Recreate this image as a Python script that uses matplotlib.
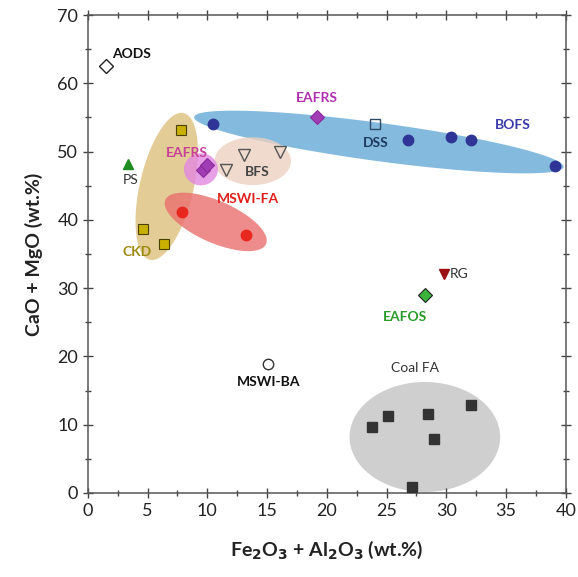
import numpy as np
import matplotlib
matplotlib.use('Agg')
import matplotlib.pyplot as plt
from matplotlib.patches import Polygon
from matplotlib.ticker import MultipleLocator

plt.rcParams['font.family'] = ['Lato', 'DejaVu Sans']

# point groups: x = Fe2O3 + Al2O3, y = CaO + MgO
aods_x, aods_y = [1.5], [62.5]
ps_x, ps_y = [3.4], [48.2]
ckd_x, ckd_y = [7.8, 4.6, 6.4], [53.1, 38.7, 36.5]
eafrs_x, eafrs_y = [9.6, 10.0, 19.2], [47.3, 48.1, 55.1]
bfs_x, bfs_y = [11.6, 13.1, 16.1], [47.3, 49.5, 49.9]
bofs_x, bofs_y = [10.5, 26.8, 30.4, 32.1, 39.1], [54.0, 51.7, 52.1, 51.7, 47.9]
dss_x, dss_y = [24.0], [54.0]
mswifa_x, mswifa_y = [7.9, 13.2], [41.1, 37.8]
rg_x, rg_y = [29.8], [32.1]
eafos_x, eafos_y = [28.2], [29.0]
mswiba_x, mswiba_y = [15.1], [18.9]
coal_x = [23.8, 25.1, 28.5, 32.1, 29.0, 27.1]
coal_y = [9.7, 11.3, 11.6, 12.9, 7.9, 0.9]

# shaded groups: centre x, centre y, half-length, half-width (x units), angle (deg), colour
ell_cx = [6.6, 24.35, 10.7, 13.8, 9.46, 28.2]
ell_cy = [44.9, 51.4, 39.7, 48.6, 47.4, 8.2]
ell_a = [6.3, 15.6, 4.6, 3.2, 1.42, 6.3]
ell_b = [2.25, 1.6, 1.75, 2.0, 1.34, 4.6]
ell_ang = [77, -7.7, -23.7, 0, 0, 0]
ell_col = ['#ddc07c', '#66a9d6', '#ea6f6f', '#ecd1c1', '#e288e0', '#cfcfcf']

fig = plt.figure(figsize=(5.78, 5.77), dpi=100)
ax = fig.add_axes([0.152, 0.1456, 0.827, 0.8284])
ax.set_xlim(0, 40)
ax.set_ylim(0, 70)

# ratio of y-unit to x-unit on screen, so ellipses keep their look
w_px = 0.827 * 578
h_px = 0.8284 * 577
r = (h_px / 70) / (w_px / 40)

t = np.linspace(0, 2 * np.pi, 200)
for cx, cy, a, b, ang, col in zip(ell_cx, ell_cy, ell_a, ell_b, ell_ang, ell_col):
    th = np.deg2rad(ang)
    X = a * np.cos(t) * np.cos(th) - b * np.sin(t) * np.sin(th)
    Y = a * np.cos(t) * np.sin(th) + b * np.sin(t) * np.cos(th)
    pts = np.column_stack([cx + X, cy + Y / r])
    alpha = 1.0 if col == '#cfcfcf' else 0.8
    ax.add_patch(Polygon(pts, closed=True, facecolor=col, edgecolor='none', alpha=alpha, zorder=1))

ax.plot(aods_x, aods_y, 'D', ms=7.5, mfc='white', mec='#222222', mew=1, zorder=3)
ax.plot(ps_x, ps_y, '^', ms=7.5, mfc='#1e8c1e', mec='#1e8c1e', zorder=3)
ax.plot(ckd_x, ckd_y, 's', ms=7.5, mfc='#c9b000', mec='#4a4000', mew=0.8, zorder=3)
ax.plot(eafrs_x, eafrs_y, 'D', ms=7.5, mfc='#a03cb4', mec='#8a2a9c', mew=0.8, zorder=3)
ax.plot(bfs_x, bfs_y, 'v', ms=8.5, mfc='none', mec='#555555', mew=1, zorder=3)
ax.plot(bofs_x, bofs_y, 'o', ms=7.5, mfc='#2f3596', mec='#2f3596', zorder=3)
ax.plot(dss_x, dss_y, 's', ms=7.5, mfc='none', mec='#2e4a66', mew=1, zorder=3)
ax.plot(mswifa_x, mswifa_y, 'o', ms=7.5, mfc='#e8281e', mec='#e8281e', zorder=3)
ax.plot(rg_x, rg_y, 'v', ms=7, mfc='#9a1212', mec='#9a1212', zorder=3)
ax.plot(eafos_x, eafos_y, 'D', ms=7.5, mfc='#3cb43c', mec='#222222', mew=0.8, zorder=3)
ax.plot(mswiba_x, mswiba_y, 'o', ms=7.5, mfc='white', mec='#333333', mew=1, zorder=3)
ax.plot(coal_x, coal_y, 's', ms=7.5, mfc='#333333', mec='#333333', zorder=3)

fs = 10
ax.text(2.0, 64.3, 'AODS', fontsize=fs, fontweight='bold', color='#111111', va='center')
ax.text(19.2, 57.8, 'EAFRS', fontsize=fs, fontweight='bold', color='#b030b0', ha='center', va='center')
ax.text(24.1, 51.2, 'DSS', fontsize=fs, fontweight='bold', color='#1f3a5f', ha='center', va='center')
ax.text(35.6, 53.9, 'BOFS', fontsize=fs, fontweight='bold', color='#3a3aaa', ha='center', va='center')
ax.text(8.3, 49.8, 'EAFRS', fontsize=fs, fontweight='bold', color='#c8409a', ha='center', va='center')
ax.text(3.6, 45.8, 'PS', fontsize=fs, color='#333333', ha='center', va='center')
ax.text(14.2, 47.0, 'BFS', fontsize=fs, fontweight='bold', color='#444444', ha='center', va='center')
ax.text(13.4, 43.0, 'MSWI-FA', fontsize=fs, fontweight='bold', color='#e0201c', ha='center', va='center')
ax.text(4.1, 35.3, 'CKD', fontsize=fs, fontweight='bold', color='#9a8a10', ha='center', va='center')
ax.text(30.3, 32.1, 'RG', fontsize=fs, color='#333333', va='center')
ax.text(26.5, 25.8, 'EAFOS', fontsize=fs, fontweight='bold', color='#2a9a2a', ha='center', va='center')
ax.text(15.1, 16.3, 'MSWI-BA', fontsize=fs, fontweight='bold', color='#111111', ha='center', va='center')
ax.text(27.4, 18.3, 'Coal FA', fontsize=fs, color='#333333', ha='center', va='center')

ax.xaxis.set_major_locator(MultipleLocator(5))
ax.xaxis.set_minor_locator(MultipleLocator(2.5))
ax.yaxis.set_major_locator(MultipleLocator(10))
ax.yaxis.set_minor_locator(MultipleLocator(5))
ax.tick_params(which='both', direction='inout', labelsize=13, colors='#444444',
               labelcolor='#222222', top=True, right=True)
ax.tick_params(which='major', length=7, width=1)
ax.tick_params(which='minor', length=5, width=1)
for sp in ax.spines.values():
    sp.set_color('#555555')
    sp.set_linewidth(1.1)

ax.set_xlabel(r'Fe$_\mathbf{2}$O$_\mathbf{3}$ + Al$_\mathbf{2}$O$_\mathbf{3}$ (wt.%)',
              fontsize=14, fontweight='bold', color='#222222', labelpad=14)
ax.set_ylabel('CaO + MgO (wt.%)', fontsize=14, fontweight='bold', color='#222222', labelpad=10)

fig.savefig('out.png', dpi=100)
